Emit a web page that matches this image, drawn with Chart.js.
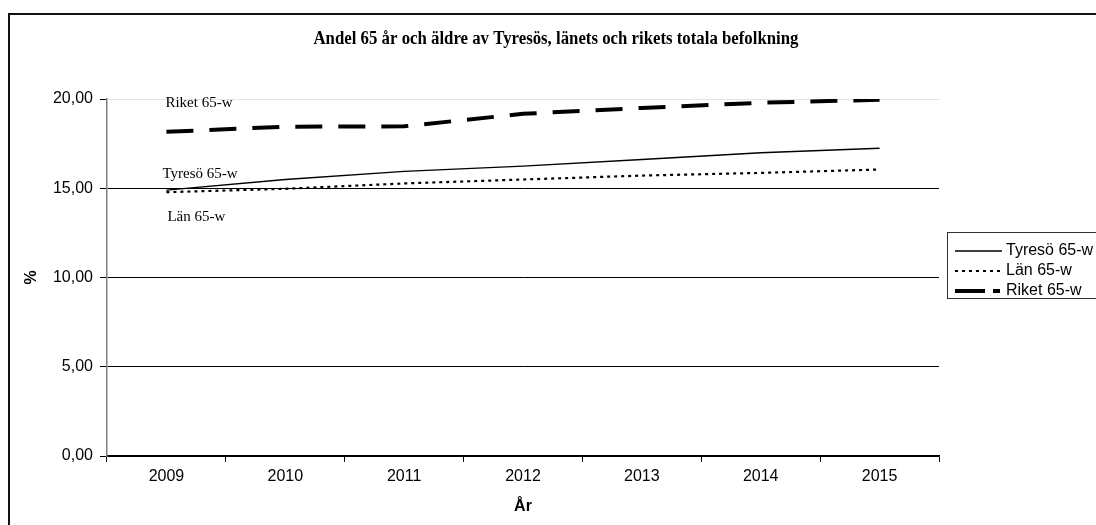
<!DOCTYPE html>
<html>
<head>
<meta charset="utf-8">
<script src="https://cdn.jsdelivr.net/npm/chart.js@4/dist/chart.umd.min.js"></script>
<style>
  html, body { margin: 0; padding: 0; background: #fff; }
  #wrap { width: 1096px; height: 525px; position: relative; }
</style>
</head>
<body>
<div id="wrap"><canvas id="chart" width="1096" height="525"></canvas></div>
<script>
// Andel 65 år och äldre - Tyresö, län, riket
const years = ['2009', '2010', '2011', '2012', '2013', '2014', '2015'];
const tyreso = [14.89, 15.49, 15.94, 16.24, 16.61, 16.99, 17.24];
const lan = [14.78, 14.97, 15.27, 15.49, 15.71, 15.86, 16.05];
const riket = [18.16, 18.45, 18.47, 19.17, 19.5, 19.79, 19.96];
const seriesNames = ['Tyresö 65-w', 'Län 65-w', 'Riket 65-w'];
const yTicks = [0, 5, 10, 15, 20];

const titleText = 'Andel 65 år och äldre av Tyresös, länets och rikets totala befolkning';

function fmt(v) {
    return v.toFixed(2).replace('.', ',');
}

// Frame, title, in-plot labels and legend box
const decorPlugin = {
    id: 'decor',
    afterDraw(chart) {
        const ctx = chart.ctx;
        const x = chart.scales.x;
        const y = chart.scales.y;
        ctx.save();

        // outer frame (cut off to the right and bottom)
        ctx.strokeStyle = '#111';
        ctx.lineWidth = 2;
        ctx.beginPath();
        ctx.moveTo(9, 530);
        ctx.lineTo(9, 14);
        ctx.lineTo(1100, 14);
        ctx.stroke();

        // title - condensed serif, squeezed to its width in the picture
        ctx.fillStyle = '#000';
        ctx.font = 'bold 18px "Liberation Serif", "Times New Roman", serif';
        ctx.textAlign = 'center';
        ctx.textBaseline = 'alphabetic';
        const tw = ctx.measureText(titleText).width;
        ctx.save();
        ctx.translate(556, 44);
        ctx.scale(485 / tw, 1);
        ctx.fillText(titleText, 0, 0);
        ctx.restore();

        // labels next to the lines
        ctx.font = '15px "Liberation Serif", "Times New Roman", serif';
        ctx.textAlign = 'left';
        ctx.textBaseline = 'middle';
        const x0 = x.getPixelForValue(0);
        ctx.fillText('Riket 65-w', x0 - 1, y.getPixelForValue(19.75));
        ctx.fillText('Tyresö 65-w', x0 - 4, y.getPixelForValue(15.8));
        ctx.fillText('Län 65-w', x0 + 1, y.getPixelForValue(13.4));

        // legend box
        ctx.strokeStyle = '#333';
        ctx.lineWidth = 1;
        ctx.strokeRect(947.5, 232.5, 160, 66);

        ctx.font = '16px "Liberation Sans", Arial, sans-serif';
        chart.data.datasets.forEach((ds, i) => {
            const ly = 251 + i * 20;
            ctx.strokeStyle = ds.borderColor;
            ctx.lineWidth = ds.borderWidth;
            ctx.setLineDash(ds.borderDash || []);
            ctx.lineDashOffset = 0;
            ctx.beginPath();
            if (i === 2) {
                ctx.setLineDash([]);
                ctx.moveTo(955, ly); ctx.lineTo(985, ly);
                ctx.moveTo(993, ly); ctx.lineTo(1000, ly);
            } else {
                ctx.moveTo(955, ly); ctx.lineTo(1002, ly);
            }
            ctx.stroke();
            ctx.setLineDash([]);
            ctx.fillStyle = '#000';
            ctx.textBaseline = 'middle';
            ctx.fillText(seriesNames[i], 1006, ly);
        });
        ctx.restore();
    }
};

const ctx = document.getElementById('chart').getContext('2d');
const chart = new Chart(ctx, {
    type: 'line',
    data: {
        labels: years,
        datasets: [
            {
                label: seriesNames[0],
                data: tyreso,
                borderColor: '#000',
                borderWidth: 1.3,
                pointRadius: 0,
                tension: 0
            },
            {
                label: seriesNames[1],
                data: lan,
                borderColor: '#000',
                borderWidth: 2.2,
                borderDash: [3, 4],
                pointRadius: 0,
                tension: 0
            },
            {
                label: seriesNames[2],
                data: riket,
                borderColor: '#000',
                borderWidth: 4,
                borderDash: [27, 16],
                borderCapStyle: 'butt',
                pointRadius: 0,
                tension: 0
            }
        ]
    },
    options: {
        responsive: false,
        animation: false,
        devicePixelRatio: 1,
        layout: { padding: { left: 0, top: 99, right: 157, bottom: 0 } },
        plugins: {
            legend: { display: false },
            title: { display: false },
            tooltip: { enabled: false }
        },
        scales: {
            x: {
                offset: true,
                afterFit(scale) { scale.height = 69; },
                grid: {
                    offset: true,
                    drawOnChartArea: false,
                    tickLength: 6,
                    tickColor: '#000'
                },
                border: { color: '#000', width: 1.5 },
                ticks: {
                    padding: 5,
                    color: '#000',
                    font: { family: '"Liberation Sans", Arial, sans-serif', size: 16 }
                },
                title: {
                    display: true,
                    text: 'År',
                    color: '#000',
                    font: { family: '"Liberation Sans", Arial, sans-serif', size: 16, weight: 'bold' },
                    padding: { top: 0, bottom: 9 }
                }
            },
            y: {
                min: 0,
                max: 20,
                afterFit(scale) { scale.width = 107; },
                afterBuildTicks(scale) {
                    scale.ticks = yTicks.map(v => ({ value: v }));
                },
                grid: {
                    color: c => (c.tick && c.tick.value === 20 ? '#e4e4e4' : '#000'),
                    lineWidth: 1,
                    tickLength: 7,
                    tickColor: '#000'
                },
                border: { color: '#808080', width: 1.5 },
                ticks: {
                    padding: 7,
                    color: '#000',
                    font: { family: '"Liberation Sans", Arial, sans-serif', size: 16 },
                    callback: v => fmt(v)
                },
                title: {
                    display: true,
                    text: '%',
                    color: '#000',
                    font: { family: '"Liberation Sans", Arial, sans-serif', size: 16, weight: 'bold' },
                    padding: { top: 22, bottom: 0 }
                }
            }
        }
    },
    plugins: [decorPlugin]
});
</script>
</body>
</html>
